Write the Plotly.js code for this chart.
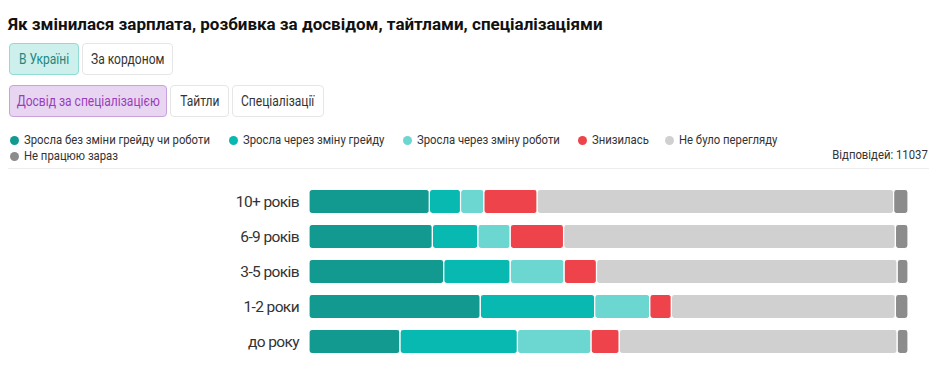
<!DOCTYPE html>
<html>
<head>
<meta charset="utf-8">
<script src="https://cdn.plot.ly/plotly-3.0.1.min.js"></script>
<style>
  html, body { margin: 0; padding: 0; background: #fff; }
  body { width: 933px; height: 381px; position: relative; overflow: hidden; }
  #chart { position: absolute; left: 0; top: 0; width: 933px; height: 381px; }
  .ov { position: absolute; z-index: 10; white-space: nowrap; }
  .title { left: 8px; top: 14px; font: bold 17px Roboto, sans-serif; line-height: 20px; color: #111; }
  .btn { box-sizing: border-box; height: 32px; border: 1px solid #e6e6e6; border-radius: 4px;
         display: flex; align-items: center; justify-content: center;
         font: 14px Roboto, sans-serif; color: #333; background: #fff; }
  .btn span { display: inline-block; transform: scaleX(0.86); }
  .btn.t { background: #cdf0ec; border-color: #8edcd4; color: #23877f; }
  .btn.p { background: #e8d5f1; border-color: #c9a2dd; color: #9a3dbb; }
  .leg { font: 13px Roboto, sans-serif; color: #333; line-height: 16px; transform: scaleX(0.87); transform-origin: left center; }
  .leg.r { transform-origin: right center; }
  .dot { position: absolute; width: 9px; height: 9px; border-radius: 50%; }
  .sep { left: 8px; top: 168px; width: 921px; height: 1px; background: #ececec; }
  #chart .ytick text { letter-spacing: -0.6px; }
</style>
</head>
<body>
<div id="chart"></div>
<div class="ov title">Як змінилася зарплата, розбивка за досвідом, тайтлами, спеціалізаціями</div>
<div class="ov btn t" style="left:9px;top:43px;width:70px;"><span>В Україні</span></div>
<div class="ov btn" style="left:82px;top:43px;width:91px;"><span>За кордоном</span></div>
<div class="ov btn p" style="left:9px;top:85px;width:158px;"><span>Досвід за спеціалізацією</span></div>
<div class="ov btn" style="left:170px;top:85px;width:59px;"><span>Тайтли</span></div>
<div class="ov btn" style="left:232px;top:85px;width:92px;"><span>Спеціалізації</span></div>
<div id="legend"></div>
<div class="ov leg r" id="resp" style="right:5px;top:147px;"></div>
<div class="ov sep"></div>
<script>
// ---- data ----
const categories = ["10+ років", "6-9 років", "3-5 років", "1-2 роки", "до року"];
const seriesNames = [
  "Зросла без зміни грейду чи роботи",
  "Зросла через зміну грейду",
  "Зросла через зміну роботи",
  "Знизилась",
  "Не було перегляду",
  "Не працюю зараз"
];
const grewSameRole   = [20.1, 20.6, 22.5, 28.6, 15.2];
const grewNewGrade   = [5.2, 7.6, 11.1, 19.1, 19.6];
const grewNewJob     = [3.9, 5.4, 9.0, 9.2, 12.3];
const decreased      = [8.9, 8.9, 5.4, 3.6, 4.7];
const noReview       = [59.5, 55.4, 50.2, 37.4, 46.4];
const notWorking     = [2.4, 2.1, 1.8, 2.1, 1.8];
const responses = 11037;

const colors = ["#139a90", "#07b9b1", "#6cd6d1", "#ee434a", "#d0d0d0", "#8c8c8c"];
const seriesValues = [grewSameRole, grewNewGrade, grewNewJob, decreased, noReview, notWorking];

document.getElementById("resp").textContent = "Відповідей: " + responses;

// ---- build traces (each segment placed at its cumulative base) ----
const cum = categories.map(() => 0);
const traces = seriesValues.map((vals, i) => {
  const base = cum.slice();
  vals.forEach((v, j) => { cum[j] += v; });
  return {
    type: "bar",
    orientation: "h",
    name: seriesNames[i],
    y: categories,
    x: vals,
    base: base,
    marker: { color: colors[i], line: { color: "#ffffff", width: 1.2 }, cornerradius: 3 },
    hovertemplate: "%{y}: %{x}%<extra>" + seriesNames[i] + "</extra>"
  };
});

const layout = {
  width: 933, height: 381,
  margin: { l: 309, r: 25, t: 184, b: 22, pad: 0 },
  paper_bgcolor: "rgba(0,0,0,0)",
  plot_bgcolor: "rgba(0,0,0,0)",
  barmode: "overlay",
  bargap: 0.314,
  showlegend: false,
  xaxis: { range: [0, 100], showgrid: false, zeroline: false, showticklabels: false, showline: false, fixedrange: true },
  yaxis: {
    type: "category",
    categoryorder: "array",
    categoryarray: categories,
    autorange: "reversed",
    showgrid: false, zeroline: false, showline: false,
    ticks: "", ticklabelstandoff: 9,
    tickfont: { family: "Roboto, sans-serif", size: 15.5, color: "#333" },
    fixedrange: true
  },
  font: { family: "Roboto, sans-serif" }
};

Plotly.newPlot("chart", traces, layout, { displayModeBar: false, staticPlot: true });

// ---- legend (HTML, colours and names from the same arrays) ----
const legPos = [[14, 140], [233, 140], [407, 140], [582, 140], [669, 140], [14, 156]];
const legend = document.getElementById("legend");
seriesNames.forEach((n, i) => {
  const [cx, cy] = legPos[i];
  const d = document.createElement("div");
  d.className = "ov dot";
  d.style.left = (cx - 4.5) + "px";
  d.style.top = (cy - 4.5) + "px";
  d.style.background = colors[i];
  legend.appendChild(d);
  const t = document.createElement("div");
  t.className = "ov leg";
  t.style.left = (cx + 10) + "px";
  t.style.top = (cy - 8) + "px";
  t.textContent = n;
  legend.appendChild(t);
});
</script>
</body>
</html>
